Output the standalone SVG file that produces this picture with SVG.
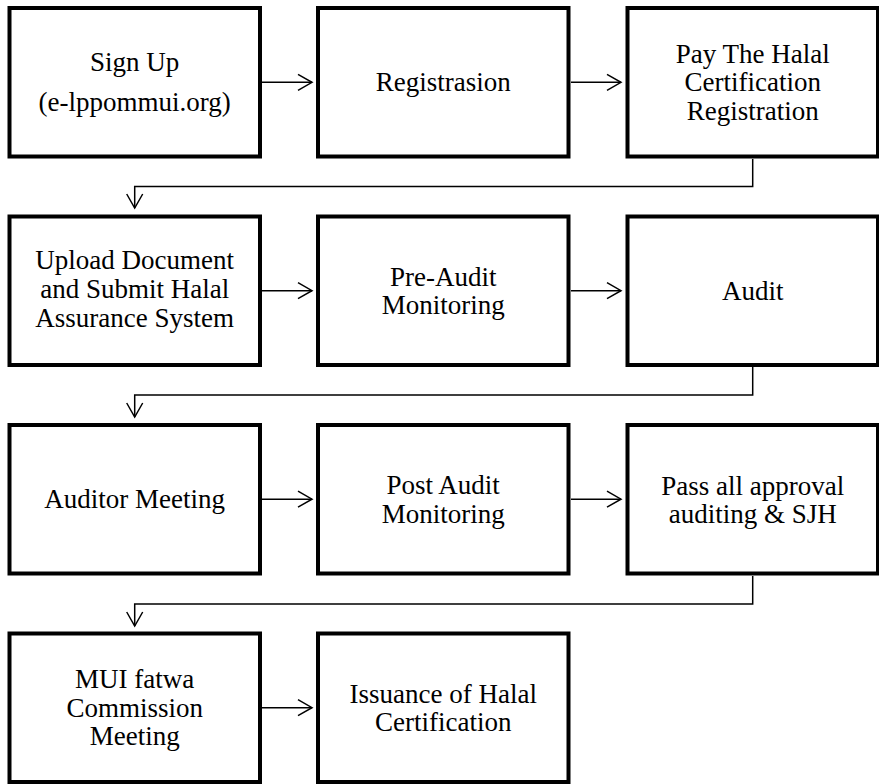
<svg xmlns="http://www.w3.org/2000/svg" width="879" height="784" viewBox="0 0 879 784">
<style>
.box{fill:#fff;stroke:#000;stroke-width:4}
.t{font-family:"Liberation Serif","Times New Roman",serif;font-size:27px;fill:#000;text-anchor:middle}
.c{fill:none;stroke:#000;stroke-width:1.5}
</style>
<defs>
<marker id="ah" viewBox="-16 -10 18 20" markerWidth="18" markerHeight="20" refX="0" refY="0" markerUnits="userSpaceOnUse" orient="auto">
<path d="M-14,-8 L0,0 L-14,8" fill="none" stroke="#000" stroke-width="1.5"/>
</marker>
</defs>
<rect width="879" height="784" fill="#fff"/>
<g id="connectors">
<path class="c" d="M262 82.3 H312" marker-end="url(#ah)"/>
<path class="c" d="M571 82.3 H621" marker-end="url(#ah)"/>
<path class="c" d="M752.7 159 V186.5 H134.7 V208" marker-end="url(#ah)"/>
<path class="c" d="M262 290.7 H312" marker-end="url(#ah)"/>
<path class="c" d="M571 290.7 H621" marker-end="url(#ah)"/>
<path class="c" d="M752.7 367 V395 H134.7 V417" marker-end="url(#ah)"/>
<path class="c" d="M262 499.2 H312" marker-end="url(#ah)"/>
<path class="c" d="M571 499.2 H621" marker-end="url(#ah)"/>
<path class="c" d="M752.7 576 V604 H134.7 V626" marker-end="url(#ah)"/>
<path class="c" d="M262 707.7 H312" marker-end="url(#ah)"/>
</g>
<g id="n1"><rect class="box" x="9.5" y="8" width="250.5" height="148.5"/>
<text class="t" x="134.7" y="71">Sign Up</text><text class="t" x="134.7" y="111">(e-lppommui.org)</text></g>
<g id="n2"><rect class="box" x="318" y="8" width="250.5" height="148.5"/>
<text class="t" x="443.2" y="91.3">Registrasion</text></g>
<g id="n3"><rect class="box" x="627.5" y="8" width="250.5" height="148.5"/>
<text class="t" x="752.7" y="62.8">Pay The Halal</text><text class="t" x="752.7" y="91.3">Certification</text><text class="t" x="752.7" y="119.8">Registration</text></g>
<g id="n4"><rect class="box" x="9.5" y="216.5" width="250.5" height="148.5"/>
<text class="t" x="134.7" y="269.3">Upload Document</text><text class="t" x="134.7" y="298">and Submit Halal</text><text class="t" x="134.7" y="326.7">Assurance System</text></g>
<g id="n5"><rect class="box" x="318" y="216.5" width="250.5" height="148.5"/>
<text class="t" x="443.2" y="285.5">Pre-Audit</text><text class="t" x="443.2" y="313.8">Monitoring</text></g>
<g id="n6"><rect class="box" x="627.5" y="216.5" width="250.5" height="148.5"/>
<text class="t" x="752.7" y="299.7">Audit</text></g>
<g id="n7"><rect class="box" x="9.5" y="425" width="250.5" height="148.5"/>
<text class="t" x="134.7" y="508.2">Auditor Meeting</text></g>
<g id="n8"><rect class="box" x="318" y="425" width="250.5" height="148.5"/>
<text class="t" x="443.2" y="494.2">Post Audit</text><text class="t" x="443.2" y="522.5">Monitoring</text></g>
<g id="n9"><rect class="box" x="627.5" y="425" width="250.5" height="148.5"/>
<text class="t" x="752.7" y="494.8">Pass all approval</text><text class="t" x="752.7" y="522.7">auditing &amp; SJH</text></g>
<g id="n10"><rect class="box" x="9.5" y="633.5" width="250.5" height="148.5"/>
<text class="t" x="134.7" y="688.3">MUI fatwa</text><text class="t" x="134.7" y="716.7">Commission</text><text class="t" x="134.7" y="745">Meeting</text></g>
<g id="n11"><rect class="box" x="318" y="633.5" width="250.5" height="148.5"/>
<text class="t" x="443.2" y="702.7">Issuance of Halal</text><text class="t" x="443.2" y="731.2">Certification</text></g>
</svg>
